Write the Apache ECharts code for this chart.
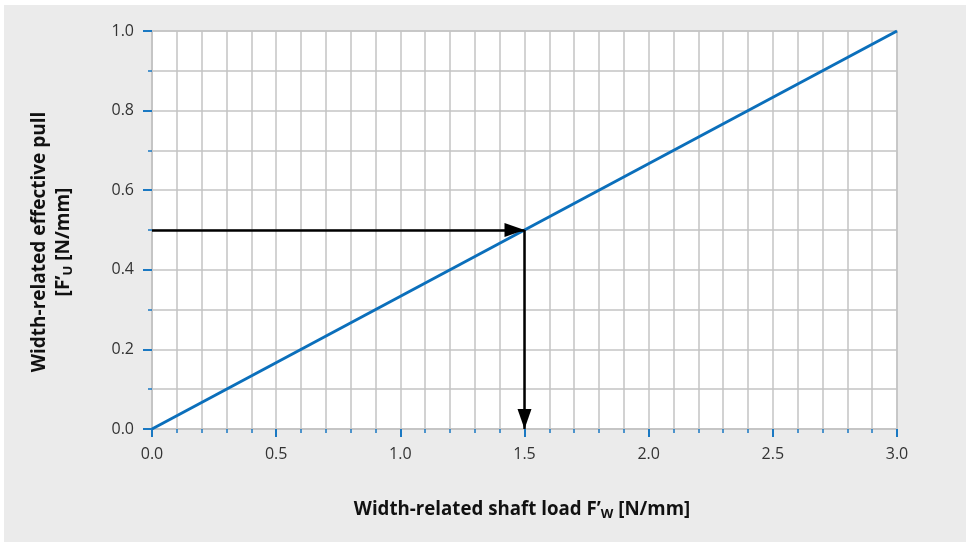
<!DOCTYPE html>
<html>
<head>
<meta charset="utf-8">
<script src="https://cdn.jsdelivr.net/npm/echarts@6/dist/echarts.min.js"></script>
<style>
html,body{margin:0;padding:0;background:#fff;}
#bg{position:absolute;left:4px;top:5px;width:962px;height:537px;background:#ebebeb;}
#c{position:absolute;left:0;top:0;width:966px;height:542px;}
</style>
</head>
<body>
<div id="bg"></div>
<div id="c"></div>
<script>
// Data
const lineX = [0.0, 3.0];
const lineY = [0.0, 1.0];
const arrowH = [[0.0, 0.5], [1.5, 0.5]];
const arrowV = [[1.5, 0.5], [1.5, 0.0]];
const xRange = [0, 3];
const yRange = [0, 1];

const FONT = '"Open Sans", "DejaVu Sans", sans-serif';
const chart = echarts.init(document.getElementById('c'), null, {renderer: 'canvas'});
const gridColor = '#c4c4c4';
const tickColor = '#1a78c2';

chart.setOption({
  backgroundColor: 'transparent',
  animation: false,
  grid: {left: 152, right: 69, top: 31, bottom: 113, show: true, borderColor: gridColor, borderWidth: 1.5, backgroundColor: '#fff'},
  xAxis: {
    type: 'value', min: xRange[0], max: xRange[1], interval: 0.5,
    axisLine: {show: true, onZero: false, lineStyle: {color: gridColor, width: 1.5}},
    axisTick: {show: true, length: 8, lineStyle: {color: tickColor, width: 2}},
    minorTick: {show: true, splitNumber: 5, length: 4, lineStyle: {color: tickColor, width: 1.5}},
    splitLine: {show: true, lineStyle: {color: gridColor, width: 1.5}},
    minorSplitLine: {show: true, lineStyle: {color: gridColor, width: 1.5}},
    axisLabel: {color: '#333', fontSize: 16, fontFamily: FONT, margin: 17, formatter: v => v.toFixed(1)},
    name: '{b|Width-related shaft load F’}{s|W}{b| [N/mm]}',
    nameLocation: 'middle', nameGap: 70,
    nameTextStyle: {padding: [0, 5, 0, 0], rich: {
      b: {fontSize: 18.7, fontWeight: 'bold', color: '#111', fontFamily: FONT},
      s: {fontSize: 13, fontWeight: 'bold', color: '#111', fontFamily: FONT, padding: [9, 0, 0, 0]}
    }}
  },
  yAxis: {
    type: 'value', min: yRange[0], max: yRange[1], interval: 0.2,
    axisLine: {show: true, onZero: false, lineStyle: {color: gridColor, width: 1.5}},
    axisTick: {show: true, length: 9, lineStyle: {color: tickColor, width: 2}},
    minorTick: {show: true, splitNumber: 2, length: 4, lineStyle: {color: tickColor, width: 1.5}},
    splitLine: {show: true, lineStyle: {color: gridColor, width: 1.5}},
    minorSplitLine: {show: true, lineStyle: {color: gridColor, width: 1.5}},
    axisLabel: {color: '#333', fontSize: 16, fontFamily: FONT, margin: 18, formatter: v => v.toFixed(1)},
    name: '{b|Width-related effective pull}\n{b|[F’}{s|U}{b| [N/mm]}',
    nameLocation: 'middle', nameGap: 76, nameRotate: 90,
    nameTextStyle: {align: 'center', lineHeight: 24, padding: [0, 24, 0, 0], rich: {
      b: {fontSize: 19, fontWeight: 'bold', color: '#111', fontFamily: FONT, lineHeight: 24},
      s: {fontSize: 13, fontWeight: 'bold', color: '#111', fontFamily: FONT, lineHeight: 24, padding: [9, 0, 0, 0]}
    }}
  },
  series: [
    {
      type: 'line', data: lineX.map((x, i) => [x, lineY[i]]),
      symbol: 'none', lineStyle: {color: '#0b6fbb', width: 3}, z: 3
    },
    {
      type: 'line', data: [], symbol: 'none', z: 4,
      markLine: {
        silent: true, animation: false,
        symbol: ['none', 'triangle'], symbolSize: [14, 20],
        symbolOffset: [[0, 0], [0, 10]],
        label: {show: false},
        lineStyle: {color: '#000', width: 2.5, type: 'solid'},
        data: [
          [{coord: arrowH[0]}, {coord: arrowH[1]}],
          [{coord: arrowV[0]}, {coord: arrowV[1]}]
        ]
      }
    }
  ]
});
</script>
</body>
</html>
